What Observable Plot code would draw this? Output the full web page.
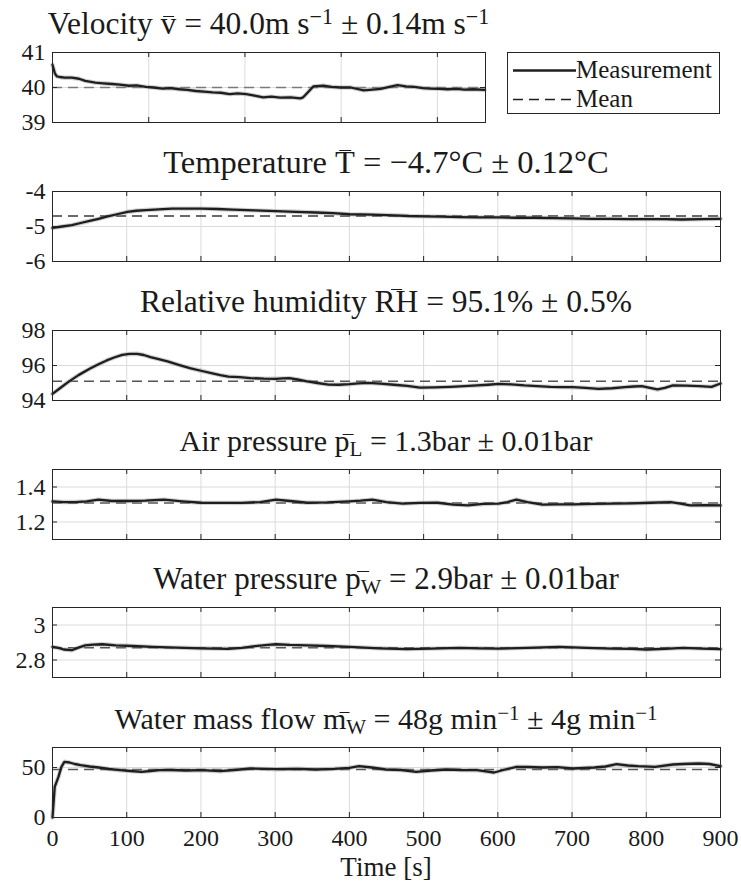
<!DOCTYPE html>
<html><head><meta charset="utf-8">
<script src="https://cdn.jsdelivr.net/npm/d3@7"></script>
<script src="https://cdn.jsdelivr.net/npm/@observablehq/plot@0.6"></script>
<style>
body{margin:0;background:#fff;}
#wrap{position:relative;width:741px;height:895px;overflow:hidden;font-family:'Liberation Serif','Times New Roman',serif;color:#1a1a1a;}
.title{position:absolute;white-space:nowrap;font-size:30px;line-height:1;transform:translateX(-50%);font-family:'Liberation Serif','Times New Roman',serif;}
.title sup{font-size:0.7em;vertical-align:0.45em;line-height:0;}
.title sub{font-size:0.7em;vertical-align:-0.25em;line-height:0;}
.acc{position:relative;display:inline-block;}
.acc::after{content:'';position:absolute;left:50%;width:0.36em;margin-left:-0.18em;top:0.12em;border-top:1.5px solid currentColor;}
.acc.lo::after{top:0.27em;}
#legend{position:absolute;left:507px;top:52px;width:213px;height:62px;border:1px solid #262626;box-sizing:border-box;background:#fff;font-size:25px;font-family:'Liberation Serif','Times New Roman',serif;}
#legend .row{position:absolute;left:68px;line-height:1;}
#xlabel{position:absolute;font-size:27px;line-height:1;white-space:nowrap;transform:translateX(-50%);font-family:'Liberation Serif','Times New Roman',serif;}
</style></head>
<body><div id="wrap"></div>
<script>
// ---------- data ----------
const velT = [0, 2, 5, 9, 15, 25, 40, 55, 68, 80, 89, 105, 124, 140, 159, 175, 194, 210, 229, 245, 264, 280, 298, 315, 333, 350, 368, 385, 403, 420, 438, 455, 473, 495, 515, 521, 530, 542, 563, 580, 598, 620, 647, 665, 682, 700, 717, 735, 752, 770, 786, 805, 821, 840, 856, 875, 898];
const velV = [40.65, 40.55, 40.4, 40.32, 40.3, 40.28, 40.28, 40.25, 40.19, 40.16, 40.14, 40.12, 40.1, 40.08, 40.05, 40.06, 40.02, 40.0, 39.97, 39.98, 39.95, 39.93, 39.9, 39.88, 39.86, 39.85, 39.81, 39.83, 39.81, 39.77, 39.72, 39.74, 39.71, 39.72, 39.69, 39.72, 39.85, 40.03, 40.05, 40.02, 40.0, 40.0, 39.92, 39.94, 39.96, 40.02, 40.07, 40.03, 40.02, 39.98, 39.97, 39.96, 39.95, 39.96, 39.94, 39.95, 39.93];
const velMean = 40.0;

const tempT = [0, 13, 26, 38, 50, 62, 73, 87, 101, 113, 126, 143, 161, 180, 201, 222, 243, 272, 301, 328, 355, 378, 400, 430, 460, 480, 501, 525, 548, 575, 601, 625, 648, 675, 701, 727, 753, 777, 801, 825, 847, 875, 900];
const tempV = [-5.04, -5.0, -4.96, -4.9, -4.84, -4.78, -4.72, -4.65, -4.58, -4.55, -4.53, -4.51, -4.49, -4.49, -4.49, -4.5, -4.52, -4.54, -4.56, -4.58, -4.6, -4.62, -4.65, -4.66, -4.68, -4.7, -4.71, -4.72, -4.73, -4.74, -4.74, -4.75, -4.75, -4.76, -4.77, -4.78, -4.78, -4.79, -4.79, -4.79, -4.8, -4.79, -4.78];
const tempMean = -4.7;

const rhT = [0, 10, 21, 35, 50, 62, 73, 84, 94, 104, 114, 123, 132, 143, 155, 170, 185, 200, 214, 226, 237, 252, 267, 285, 301, 310, 319, 330, 343, 357, 372, 386, 400, 412, 425, 442, 460, 478, 495, 515, 536, 555, 572, 587, 601, 618, 636, 653, 671, 686, 701, 718, 736, 754, 771, 783, 794, 805, 815, 825, 836, 853, 871, 888, 900];
const rhV = [94.38, 94.7, 95.05, 95.45, 95.81, 96.07, 96.29, 96.47, 96.61, 96.66, 96.67, 96.6, 96.48, 96.36, 96.23, 96.04, 95.85, 95.7, 95.56, 95.45, 95.37, 95.33, 95.28, 95.25, 95.24, 95.26, 95.28, 95.2, 95.09, 95.0, 94.91, 94.9, 94.93, 94.98, 95.01, 94.96, 94.9, 94.83, 94.74, 94.75, 94.78, 94.82, 94.86, 94.9, 94.95, 94.92, 94.86, 94.82, 94.78, 94.77, 94.76, 94.72, 94.67, 94.7, 94.76, 94.8, 94.82, 94.72, 94.63, 94.72, 94.86, 94.85, 94.82, 94.78, 94.97];
const rhMean = 95.1;

const apT = [0, 15, 31, 46, 62, 80, 103, 125, 150, 175, 201, 228, 255, 280, 301, 320, 343, 370, 400, 415, 431, 450, 472, 495, 519, 540, 560, 580, 601, 613, 625, 640, 660, 680, 701, 727, 753, 780, 806, 833, 846, 859, 880, 900];
const apV = [1.318, 1.314, 1.314, 1.318, 1.328, 1.320, 1.320, 1.322, 1.328, 1.318, 1.310, 1.309, 1.309, 1.314, 1.328, 1.320, 1.310, 1.312, 1.318, 1.322, 1.328, 1.314, 1.305, 1.309, 1.310, 1.299, 1.295, 1.303, 1.305, 1.314, 1.328, 1.314, 1.299, 1.301, 1.301, 1.303, 1.305, 1.307, 1.310, 1.314, 1.305, 1.295, 1.297, 1.295];
const apMean = 1.309;

const wpT = [0, 8, 15, 26, 35, 44, 55, 67, 85, 108, 135, 167, 200, 237, 255, 273, 290, 301, 320, 343, 370, 400, 440, 478, 510, 548, 575, 601, 640, 683, 720, 753, 780, 800, 825, 850, 875, 900];
const wpV = [2.875, 2.869, 2.860, 2.856, 2.871, 2.884, 2.888, 2.890, 2.884, 2.880, 2.875, 2.871, 2.867, 2.864, 2.869, 2.879, 2.886, 2.890, 2.886, 2.884, 2.880, 2.875, 2.867, 2.862, 2.865, 2.869, 2.867, 2.865, 2.869, 2.875, 2.869, 2.865, 2.864, 2.860, 2.864, 2.869, 2.865, 2.862];
const wpMean = 2.870;

const mfT = [0, 3, 8, 12, 16, 23, 30, 38, 50, 62, 76, 91, 105, 120, 132, 144, 160, 180, 201, 226, 245, 267, 301, 330, 355, 380, 400, 413, 430, 449, 470, 490, 510, 531, 550, 572, 595, 610, 625, 640, 660, 680, 701, 730, 745, 760, 775, 789, 812, 836, 850, 871, 885, 900];
const mfV = [0, 30.7, 40.7, 50.7, 55.7, 55, 53.5, 52.3, 51, 50, 48.5, 47.3, 46.5, 45.7, 46.5, 47.3, 47.5, 47, 47.3, 46.3, 47.5, 49, 48.3, 48.7, 48, 48.7, 49.7, 51.3, 50, 48, 47.5, 45.7, 47, 48, 47.5, 47.3, 45, 48, 50.7, 50.5, 50, 50.3, 49, 50, 51, 53.3, 52, 51.3, 50.7, 53, 53.5, 54, 53.5, 51.3];
const mfMean = 48;

const xTickLabels = [0, 100, 200, 300, 400, 500, 600, 700, 800, 900];
const xTicksWide = [0, 100, 200, 300, 400, 500, 600, 700, 800, 900];
const xTicksNarrow = [0, 200, 400, 600, 800];

const titles = [
  'Velocity <span class="acc lo">v</span> = 40.0m s<sup>−1</sup> ± 0.14m s<sup>−1</sup>',
  'Temperature <span class="acc">T</span> = −4.7°C ± 0.12°C',
  'Relative humidity <span class="acc">RH</span> = 95.1% ± 0.5%',
  'Air pressure <span class="acc lo">p<sub>L</sub></span> = 1.3bar ± 0.01bar',
  'Water pressure <span class="acc lo">p<sub>W</sub></span> = 2.9bar ± 0.01bar',
  'Water mass flow <span class="acc lo">m<sub>W</sub></span> = 48g min<sup>−1</sup> ± 4g min<sup>−1</sup>'
];

const legendLabels = ["Measurement", "Mean"];
const xAxisLabel = "Time [s]";

// ---------- layout ----------
const FONT = "'Liberation Serif', 'Times New Roman', serif";
const W = 741, L = 52, H = 70;
const panels = [
  {top: 52,  right: 485, yDomain: [39, 41],    yTicks: [39, 40, 41],   t: velT,  v: velV,  mean: velMean,  meanColor: "#7a7a7a", xt: xTicksNarrow, fs: 31.5},
  {top: 191, right: 720, yDomain: [-6, -4],    yTicks: [-6, -5, -4],   t: tempT, v: tempV, mean: tempMean, meanColor: "#3a3a3a", xt: xTicksWide, fs: 32.5},
  {top: 330, right: 720, yDomain: [94, 98],    yTicks: [94, 96, 98],   t: rhT,   v: rhV,   mean: rhMean,   meanColor: "#555", xt: xTicksWide, fs: 31.5},
  {top: 469, right: 720, yDomain: [1.1, 1.5],  yTicks: [1.2, 1.4],     t: apT,   v: apV,   mean: apMean,   meanColor: "#555", xt: xTicksWide, fs: 30},
  {top: 607, right: 720, yDomain: [2.7, 3.1],  yTicks: [2.8, 3],       t: wpT,   v: wpV,   mean: wpMean,   meanColor: "#555", xt: xTicksWide, fs: 31},
  {top: 747, right: 720, yDomain: [0, 70],     yTicks: [0, 50],        t: mfT,   v: mfV,   mean: mfMean,   meanColor: "#555", xt: xTicksWide, fs: 30, last: true}
];

const wrap = document.getElementById("wrap");
const fmt = d => String(d);

panels.forEach((p, i) => {
  const mt = 16, mb = p.last ? 60 : 16;
  const fw = p.right - L;
  const data = p.t.map((t, k) => ({t, v: p.v[k]}));
  const grid = p.xt.filter(d => d > 0 && d < 900);
  const marks = [
    Plot.gridX(grid, {stroke: "#dcdcdc", strokeOpacity: 1}),
    Plot.gridY(p.yTicks, {stroke: "#dcdcdc", strokeOpacity: 1}),
    Plot.ruleY([p.mean], {stroke: p.meanColor, strokeWidth: 1.6, strokeDasharray: "10,6"}),
    Plot.line(data, {x: "t", y: "v", stroke: "#8a8a8a", strokeWidth: 4.4, strokeOpacity: 0.4}),
    Plot.line(data, {x: "t", y: "v", stroke: "#1e1e1e", strokeWidth: 2.3}),
    Plot.tickX(p.xt, {x: d => d, insetBottom: H - 5, stroke: "#262626"}),
    Plot.tickX(p.xt, {x: d => d, insetTop: H - 5, stroke: "#262626"}),
    Plot.tickY(p.yTicks, {y: d => d, insetRight: fw - 5, stroke: "#262626"}),
    Plot.tickY(p.yTicks, {y: d => d, insetLeft: fw - 5, stroke: "#262626"}),
    Plot.frame({stroke: "#262626", strokeWidth: 1}),
    Plot.axisY(p.yTicks, {tickSize: 0, tickPadding: 7, fontSize: 24, tickFormat: fmt, label: null, fill: "#1a1a1a"})
  ];
  if (p.last) {
    marks.push(Plot.axisX(xTickLabels, {tickSize: 0, tickPadding: 11, fontSize: 24, tickFormat: fmt, label: null, fill: "#1a1a1a"}));
  }
  const svg = Plot.plot({
    width: W,
    height: H + mt + mb,
    marginTop: mt, marginBottom: mb, marginLeft: L, marginRight: W - p.right,
    x: {domain: [0, 900], axis: null},
    y: {domain: p.yDomain, axis: null},
    marks
  });
  svg.setAttribute("font-family", FONT);
  svg.style.fontFamily = FONT;
  svg.style.background = "transparent";
  svg.style.overflow = "visible";
  svg.style.position = "absolute";
  svg.style.left = "0px";
  svg.style.top = (p.top - mt) + "px";
  svg.querySelectorAll("text").forEach(n => n.setAttribute("font-family", FONT));
  wrap.appendChild(svg);

  const t = document.createElement("div");
  t.className = "title";
  t.innerHTML = titles[i];
  t.style.fontSize = p.fs + "px";
  t.style.left = ((L + p.right) / 2) + "px";
  t.style.top = (p.top - 18 - 0.8375 * p.fs) + "px";
  wrap.appendChild(t);
});

// legend
const lg = document.createElement("div");
lg.id = "legend";
lg.innerHTML = `
<svg width="211" height="60" style="position:absolute;left:0;top:0">
  <line x1="5" x2="68" y1="17.5" y2="17.5" stroke="#1e1e1e" stroke-width="2.6"/>
  <line x1="5" x2="68" y1="46.5" y2="46.5" stroke="#1e1e1e" stroke-width="1.3" stroke-dasharray="10,6"/>
</svg>
<div class="row" style="top:4px">${legendLabels[0]}</div>
<div class="row" style="top:33px">${legendLabels[1]}</div>`;
wrap.appendChild(lg);

const xl = document.createElement("div");
xl.id = "xlabel";
xl.textContent = xAxisLabel;
xl.style.left = "386px";
xl.style.top = "854px";
wrap.appendChild(xl);
</script>
</body></html>
